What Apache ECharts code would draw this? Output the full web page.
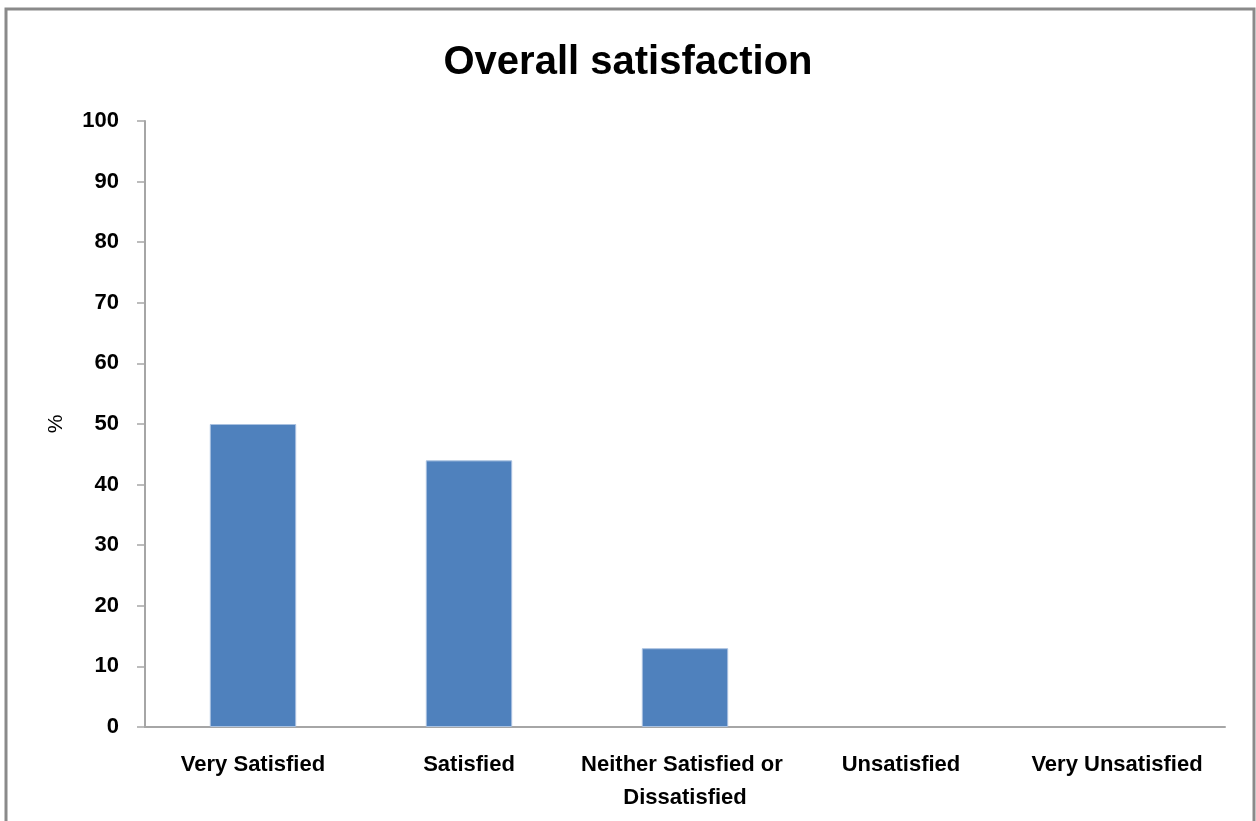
<!DOCTYPE html>
<html>
<head>
<meta charset="utf-8">
<style>
  html, body { margin: 0; padding: 0; background: #fff; }
  #chart { width: 1256px; height: 821px; }
</style>
<script src="https://cdn.jsdelivr.net/npm/echarts@6/dist/echarts.min.js"></script>
</head>
<body>
<div id="chart"></div>
<script>
// Survey answers and percentage of respondents for each
const categories = ['Very Satisfied', 'Satisfied', 'Neither Satisfied or Dissatisfied', 'Unsatisfied', 'Very Unsatisfied'];
const percentages = [50, 44, 13, 0, 0];
const yTicks = { min: 0, max: 100, interval: 10 };

const FONT = '"Liberation Sans", "DejaVu Sans", sans-serif';

const chart = echarts.init(document.getElementById('chart'), null, { renderer: 'canvas' });

// zero-valued answers get no outline so nothing is drawn for them
const barData = percentages.map(v => ({
  value: v,
  itemStyle: v === 0 ? { borderWidth: 0, opacity: 0 } : {}
}));

chart.setOption({
  animation: false,
  backgroundColor: '#ffffff',
  title: {
    text: 'Overall satisfaction',
    left: 'center',
    top: 38,
    textStyle: { fontFamily: FONT, fontWeight: 'bold', fontSize: 40, color: '#000' }
  },
  graphic: [{
    type: 'rect',
    shape: { x: 6, y: 9, width: 1248, height: 840 },
    style: { fill: 'none', stroke: '#8a8a8a', lineWidth: 3 },
    silent: true
  }],
  grid: { left: 145, right: 31, top: 121, bottom: 94, containLabel: false },
  xAxis: {
    type: 'category',
    data: categories,
    axisLine: { show: true, lineStyle: { color: '#a6a6a6', width: 2 } },
    axisTick: { show: false },
    axisLabel: {
      interval: 0,
      margin: 21,
      width: 215,
      overflow: 'break',
      lineHeight: 33,
      fontFamily: FONT,
      fontWeight: 'bold',
      fontSize: 22,
      color: '#000'
    }
  },
  yAxis: {
    type: 'value',
    min: yTicks.min,
    max: yTicks.max,
    interval: yTicks.interval,
    name: '%',
    nameLocation: 'middle',
    nameGap: 78,
    nameRotate: 90,
    nameTextStyle: { fontFamily: FONT, fontSize: 21, color: '#000' },
    axisLine: { show: true, lineStyle: { color: '#a6a6a6', width: 2 } },
    axisTick: { show: true, length: 8, inside: false, lineStyle: { color: '#a6a6a6', width: 1.5 } },
    splitLine: { show: false },
    axisLabel: {
      margin: 26,
      fontFamily: FONT,
      fontWeight: 'bold',
      fontSize: 22,
      color: '#000'
    }
  },
  series: [{
    type: 'bar',
    data: barData,
    barWidth: '40%',
    itemStyle: { color: '#4f81bd', borderColor: '#a9c1e0', borderWidth: 1 }
  }]
});
</script>
</body>
</html>
